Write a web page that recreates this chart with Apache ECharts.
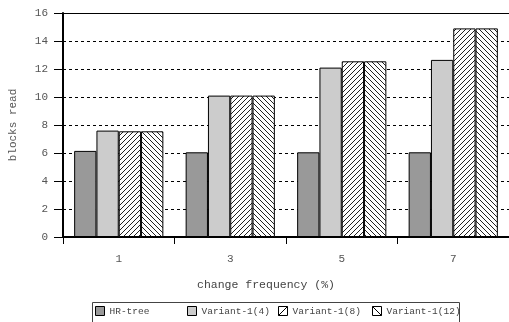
<!DOCTYPE html>
<html>
<head>
<meta charset="utf-8">
<script src="https://cdn.jsdelivr.net/npm/echarts@6/dist/echarts.min.js"></script>
<style>html,body{margin:0;padding:0;background:#fff;}#c{width:509px;height:322px;}</style>
</head>
<body>
<div id="c"></div>
<script>
var categories = ['1', '3', '5', '7'];
var seriesNames = ['HR-tree', 'Variant-1(4)', 'Variant-1(8)', 'Variant-1(12)'];
var hrTree = [6.15, 6.05, 6.05, 6.05];
var variant4 = [7.6, 10.1, 12.1, 12.65];
var variant8 = [7.55, 10.1, 12.55, 14.9];
var variant12 = [7.55, 10.1, 12.55, 14.9];
var yTicks = [0, 2, 4, 6, 8, 10, 12, 14, 16];

function hatch(dir) {
  var s = 5;
  var c = document.createElement('canvas');
  c.width = s; c.height = s;
  var ctx = c.getContext('2d');
  ctx.fillStyle = '#fff';
  ctx.fillRect(0, 0, s, s);
  ctx.strokeStyle = '#222';
  ctx.lineWidth = 1;
  ctx.beginPath();
  if (dir === '/') {
    ctx.moveTo(0, s); ctx.lineTo(s, 0);
    ctx.moveTo(-1, 1); ctx.lineTo(1, -1);
    ctx.moveTo(s - 1, s + 1); ctx.lineTo(s + 1, s - 1);
  } else {
    ctx.moveTo(0, 0); ctx.lineTo(s, s);
    ctx.moveTo(s - 1, -1); ctx.lineTo(s + 1, 1);
    ctx.moveTo(-1, s - 1); ctx.lineTo(1, s + 1);
  }
  ctx.stroke();
  return { image: c, repeat: 'repeat' };
}

var font = 'Liberation Mono';
var chart = echarts.init(document.getElementById('c'), null, { renderer: 'canvas' });

function legendItem(name, left, icon, color) {
  return {
    data: [{ name: name, icon: icon, itemStyle: { color: color, borderColor: '#000', borderWidth: 1 } }],
    left: left, top: 306, padding: 0, itemWidth: 9, itemHeight: 9, itemGap: 4,
    selectedMode: false,
    textStyle: { fontFamily: font, fontSize: 9.5, color: '#444', padding: [0, 0, 0, 0] }
  };
}

var option = {
  animation: false,
  backgroundColor: '#fff',
  grid: { left: 62, top: 13, width: 450, height: 224, containLabel: false },
  legend: [
    legendItem('HR-tree', 95, 'rect', '#999999'),
    legendItem('Variant-1(4)', 187, 'rect', '#cccccc'),
    legendItem('Variant-1(8)', 278, 'path://M0 0H10V10H0ZM0 10L10 0', '#ffffff'),
    legendItem('Variant-1(12)', 372, 'path://M0 0H10V10H0ZM0 0L10 10', '#ffffff')
  ],
  graphic: [
    { type: 'rect', shape: { x: 92.5, y: 302.5, width: 367, height: 30 }, style: { fill: 'none', stroke: '#444', lineWidth: 1 }, silent: true },
    { type: 'text', x: 266, y: 285, style: { text: 'change frequency (%)', fontFamily: font, fontSize: 11.5, fill: '#444', align: 'center', verticalAlign: 'middle' }, silent: true }
  ],
  xAxis: [
    {
      type: 'category', data: categories, boundaryGap: true,
      axisLine: { lineStyle: { color: '#000', width: 2 } },
      axisTick: { show: true, length: 7, lineStyle: { color: '#000', width: 1 } },
      axisLabel: { margin: 17, fontFamily: font, fontSize: 11, color: '#555' },
      splitLine: { show: false }
    },
    {
      type: 'category', data: categories, position: 'top',
      axisLine: { lineStyle: { color: '#000', width: 1 } },
      axisTick: { show: false }, axisLabel: { show: false }, splitLine: { show: false }
    }
  ],
  yAxis: {
    type: 'value', min: yTicks[0], max: yTicks[yTicks.length - 1], interval: 2,
    name: 'blocks read', nameLocation: 'middle', nameGap: 44, nameRotate: 90,
    nameTextStyle: { fontFamily: font, fontSize: 11, color: '#555' },
    axisLine: { show: true, lineStyle: { color: '#000', width: 2 } },
    axisTick: { show: true, length: 9, lineStyle: { color: '#000', width: 1 } },
    axisLabel: { margin: 15, fontFamily: font, fontSize: 11, color: '#555' },
    splitLine: { show: true, lineStyle: { color: '#000', width: 1, type: [3, 3] } }
  },
  series: [
    { name: seriesNames[0], type: 'bar', data: hrTree, barGap: '0%', barCategoryGap: '20%',
      itemStyle: { color: '#999999', borderColor: '#000', borderWidth: 1 } },
    { name: seriesNames[1], type: 'bar', data: variant4, barGap: '0%', barCategoryGap: '20%',
      itemStyle: { color: '#cccccc', borderColor: '#000', borderWidth: 1 } },
    { name: seriesNames[2], type: 'bar', data: variant8, barGap: '0%', barCategoryGap: '20%',
      itemStyle: { color: hatch('/'), borderColor: '#000', borderWidth: 1 } },
    { name: seriesNames[3], type: 'bar', data: variant12, barGap: '0%', barCategoryGap: '20%',
      itemStyle: { color: hatch('\\'), borderColor: '#000', borderWidth: 1 } }
  ]
};
chart.setOption(option);
</script>
</body>
</html>
